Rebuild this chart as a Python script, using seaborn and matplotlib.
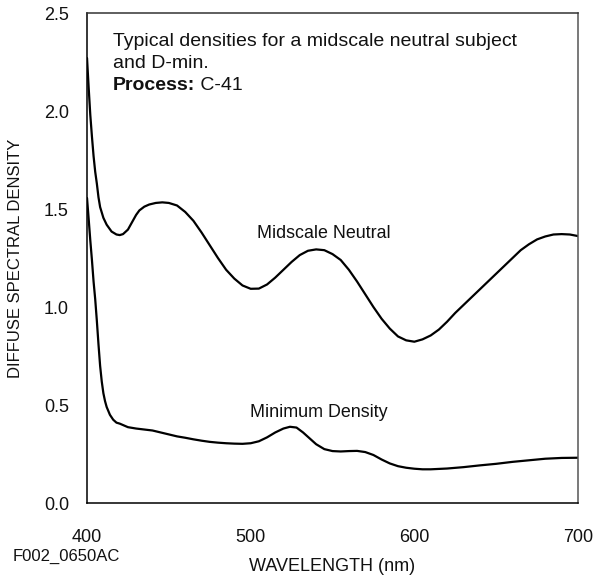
import matplotlib
matplotlib.use("Agg")
import matplotlib.pyplot as plt
import seaborn as sns
import pandas as pd

# Midscale Neutral curve (wavelength nm, density)
neutral_nm = [400, 401, 402, 403, 404, 405, 406, 407, 408, 410, 412, 415, 418, 420,
              422, 425, 428, 430, 432, 435, 438, 442, 446, 450, 455, 460, 465, 470, 475,
              480, 485, 490, 495, 500, 505, 510, 515, 520, 525, 530, 535, 540, 545,
              550, 555, 560, 565, 570, 575, 580, 585, 590, 595, 600, 605, 610, 615,
              620, 625, 630, 635, 640, 645, 650, 655, 660, 665, 670, 675, 680, 685,
              690, 695, 700]
neutral_d = [2.27, 2.12, 1.98, 1.87, 1.77, 1.69, 1.63, 1.56, 1.51, 1.455, 1.42, 1.385, 1.37, 1.367,
             1.372, 1.395, 1.44, 1.47, 1.493, 1.512, 1.523, 1.531, 1.534, 1.531, 1.518, 1.485, 1.44, 1.38, 1.315,
             1.25, 1.19, 1.145, 1.11, 1.093, 1.094, 1.115, 1.15, 1.19, 1.23, 1.265, 1.287, 1.294, 1.29,
             1.27, 1.24, 1.19, 1.13, 1.065, 1.00, 0.94, 0.89, 0.85, 0.83, 0.823, 0.835, 0.855, 0.885,
             0.925, 0.97, 1.01, 1.05, 1.09, 1.13, 1.17, 1.21, 1.25, 1.29, 1.32, 1.345, 1.36, 1.37,
             1.372, 1.37, 1.362]

# Minimum Density curve
dmin_nm = [400, 401, 402, 403, 404, 405, 406, 407, 408, 409, 410, 411, 412, 414, 416, 418,
           420, 425, 430, 435, 440, 445, 450, 455, 460, 465, 470, 475, 480, 485, 490, 495,
           500, 505, 510, 515, 520, 524, 528, 532, 536, 540, 545, 550, 555, 560, 565, 570,
           575, 580, 585, 590, 595, 600, 605, 610, 620, 630, 640, 650, 660, 670, 680, 690, 700]
dmin_d = [1.556, 1.45, 1.34, 1.24, 1.13, 1.04, 0.93, 0.81, 0.70, 0.62, 0.56, 0.52, 0.49, 0.45, 0.425, 0.41,
          0.405, 0.387, 0.38, 0.375, 0.37, 0.36, 0.35, 0.34, 0.333, 0.325, 0.318, 0.312, 0.308, 0.305, 0.303, 0.302,
          0.305, 0.315, 0.335, 0.36, 0.38, 0.389, 0.385, 0.36, 0.33, 0.30, 0.275, 0.265, 0.263, 0.265, 0.266, 0.26,
          0.245, 0.222, 0.202, 0.188, 0.18, 0.175, 0.172, 0.172, 0.176, 0.183, 0.192, 0.20, 0.21, 0.218, 0.226, 0.23, 0.231]

series_names = ["Midscale Neutral", "Minimum Density"]
x_ticks = [400, 500, 600, 700]
y_ticks = [0.0, 0.5, 1.0, 1.5, 2.0, 2.5]

df = pd.concat([
    pd.DataFrame({"nm": neutral_nm, "density": neutral_d, "series": series_names[0]}),
    pd.DataFrame({"nm": dmin_nm, "density": dmin_d, "series": series_names[1]}),
], ignore_index=True)

sns.set_style("white")
plt.rcParams["font.family"] = ["Liberation Sans", "DejaVu Sans"]

TXT = "#111111"
fig = plt.figure(figsize=(6.06, 5.76), dpi=100)
ax = fig.add_axes([0.1436, 0.1267, 0.8102, 0.8507])

sns.lineplot(data=df, x="nm", y="density", units="series", estimator=None,
             color="black", linewidth=1.6, sort=False, ax=ax, legend=False)

ax.set_xlim(400, 700)
ax.set_ylim(0, 2.5)
ax.set_xticks(x_ticks)
ax.set_yticks(y_ticks)
ax.set_xticklabels([str(v) for v in x_ticks])
ax.set_yticklabels([f"{v:.1f}" for v in y_ticks])
ax.tick_params(axis="both", direction="in", length=8.5, width=1.0, color="black",
               labelsize=13, labelcolor=TXT)
ax.tick_params(axis="x", pad=19)
ax.tick_params(axis="y", pad=13)

for side, sp in ax.spines.items():
    sp.set_visible(True)
    sp.set_color("black")
    sp.set_linewidth(1.1)
ax.spines["right"].set_color("#555555")
ax.spines["top"].set_color("#333333")

ax.set_xlabel("WAVELENGTH (nm)", fontsize=13, color=TXT)
ax.set_ylabel("DIFFUSE SPECTRAL DENSITY", fontsize=12, color=TXT)
ax.xaxis.label.set_va("center")
ax.yaxis.label.set_va("center")
ax.xaxis.set_label_coords(0.5, -(566 - 503) / 490)
ax.yaxis.set_label_coords(-0.146, 0.5)

ax.text(416, 2.332, "Typical densities for a midscale neutral subject", fontsize=14,
        va="baseline", ha="left", color=TXT)
ax.text(416, 2.219, "and D-min.", fontsize=14, va="baseline", ha="left", color=TXT)
t = ax.text(416, 2.107, "Process:", fontsize=14, va="baseline", ha="left",
            fontweight="bold", color=TXT)
ax.annotate(" C-41", xycoords=t, xy=(1, 0), va="bottom", ha="left",
            fontsize=14, color=TXT)

ax.text(503.7, 1.350, series_names[0], fontsize=12.9, va="baseline", ha="left", color=TXT)
ax.text(499.4, 0.440, series_names[1], fontsize=12.9, va="baseline", ha="left", color=TXT)

fig.text(13 / 606, 1 - 556 / 576, "F002_0650AC", fontsize=12, va="center", ha="left",
         color=TXT)

fig.savefig("out.png", dpi=100)
